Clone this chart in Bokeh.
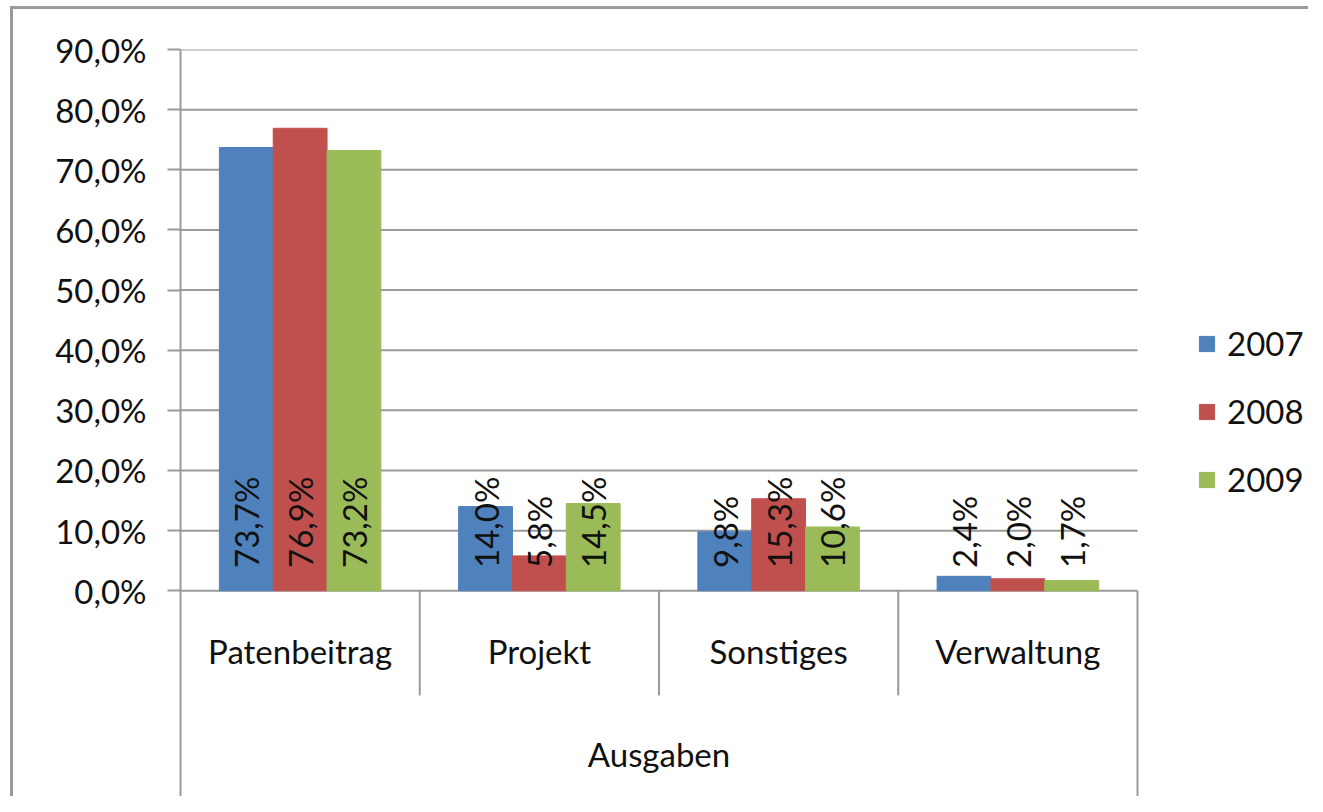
import numpy as np
from bokeh.plotting import figure
from bokeh.models import ColumnDataSource, Range1d, FixedTicker, Legend, LegendItem
from bokeh.core.properties import value
from bokeh.embed import file_html
from bokeh.resources import INLINE

categories = ["Patenbeitrag", "Projekt", "Sonstiges", "Verwaltung"]
group_label = "Ausgaben"
years = ["2007", "2008", "2009"]
v2007 = [73.7, 14.0, 9.8, 2.4]
v2008 = [76.9, 5.8, 15.3, 2.0]
v2009 = [73.2, 14.5, 10.6, 1.7]
y_ticks = [0, 10, 20, 30, 40, 50, 60, 70, 80, 90]
y_tick_labels = ["0,0%", "10,0%", "20,0%", "30,0%", "40,0%", "50,0%",
                 "60,0%", "70,0%", "80,0%", "90,0%"]

colors = ["#4F81BD", "#C0504D", "#9BBB59"]
series = [v2007, v2008, v2009]
FONT = "Lato"
FS = "33px"
GRAY = "#9a9a9a"
TXT = "#111111"

n = len(categories)
bar_w = 0.225

W, H = 1298, 790
BL, BT, BR, BB = 167, 40, 0, 1
plot_area_px = 957                      # width of the category area
frame_w = W - BL - BR
x_end = n * frame_w / plot_area_px
y_min = -34.54

p = figure(width=W, height=H, output_backend="svg", toolbar_location=None,
           x_range=Range1d(0, x_end), y_range=Range1d(y_min, 90),
           min_border_left=BL, min_border_top=BT, min_border_right=BR,
           min_border_bottom=BB)
p.styles = {"border-left": "3px solid #9a9a9a", "border-top": "3px solid #9a9a9a",
            "margin-left": "10px", "margin-top": "6px"}
p.outline_line_color = None
p.xaxis.visible = False
p.xgrid.visible = False
p.ygrid.visible = False

yax = p.yaxis[0]
yax.ticker = FixedTicker(ticks=y_ticks)
yax.major_label_overrides = {t: l for t, l in zip(y_ticks, y_tick_labels)}
yax.axis_line_color = GRAY
yax.axis_line_width = 2
yax.major_tick_line_color = GRAY
yax.major_tick_line_width = 2
yax.major_tick_out = 13
yax.major_tick_in = 0
yax.minor_tick_line_color = None
yax.major_label_standoff = 21
yax.major_label_text_font = FONT
yax.major_label_text_font_size = FS
yax.major_label_text_color = TXT

# horizontal gridlines limited to the category area
p.segment(x0=[0] * len(y_ticks), x1=[n] * len(y_ticks), y0=y_ticks, y1=y_ticks,
          line_color=GRAY, line_width=2)

renderers = []
for j, (vals, col) in enumerate(zip(series, colors)):
    xs = np.arange(n) + 0.5 + (j - 1) * bar_w
    src = ColumnDataSource(dict(x=xs, top=vals,
                                lab=[f"{v:.1f}".replace(".", ",") + "%" for v in vals],
                                ly=[3.8] * n))
    r = p.vbar(x="x", top="top", bottom=0, width=bar_w, source=src,
               fill_color=col, line_color=col)
    renderers.append(r)
    p.text(x="x", y="ly", text="lab", source=src, angle=np.pi / 2,
           text_align="left", text_baseline="middle",
           text_font=value(FONT), text_font_size=FS, text_color=TXT)

# category axis separators
sep_x = list(range(1, n))
p.segment(x0=sep_x, x1=sep_x, y0=[0] * len(sep_x), y1=[-17.4] * len(sep_x),
          line_color=GRAY, line_width=2)
p.segment(x0=[n], x1=[n], y0=[0], y1=[y_min], line_color=GRAY, line_width=2)

p.text(x=list(np.arange(n) + 0.5), y=[-10] * n, text=categories,
       text_align="center", text_baseline="middle",
       text_font=value(FONT), text_font_size=FS, text_color=TXT)
p.text(x=[n / 2], y=[-27.1], text=[group_label],
       text_align="center", text_baseline="middle",
       text_font=value(FONT), text_font_size=FS, text_color=TXT)

legend = Legend(items=[LegendItem(label=y, renderers=[r]) for y, r in zip(years, renderers)],
                location=(1017, 299), orientation="vertical",
                glyph_width=19, glyph_height=19, spacing=28, padding=0, margin=0,
                label_text_font=FONT, label_text_font_size=FS, label_text_color=TXT,
                label_standoff=11, border_line_color=None, background_fill_color=None)
p.add_layout(legend, "center")

open("out.html", "w").write(file_html(p, INLINE))
